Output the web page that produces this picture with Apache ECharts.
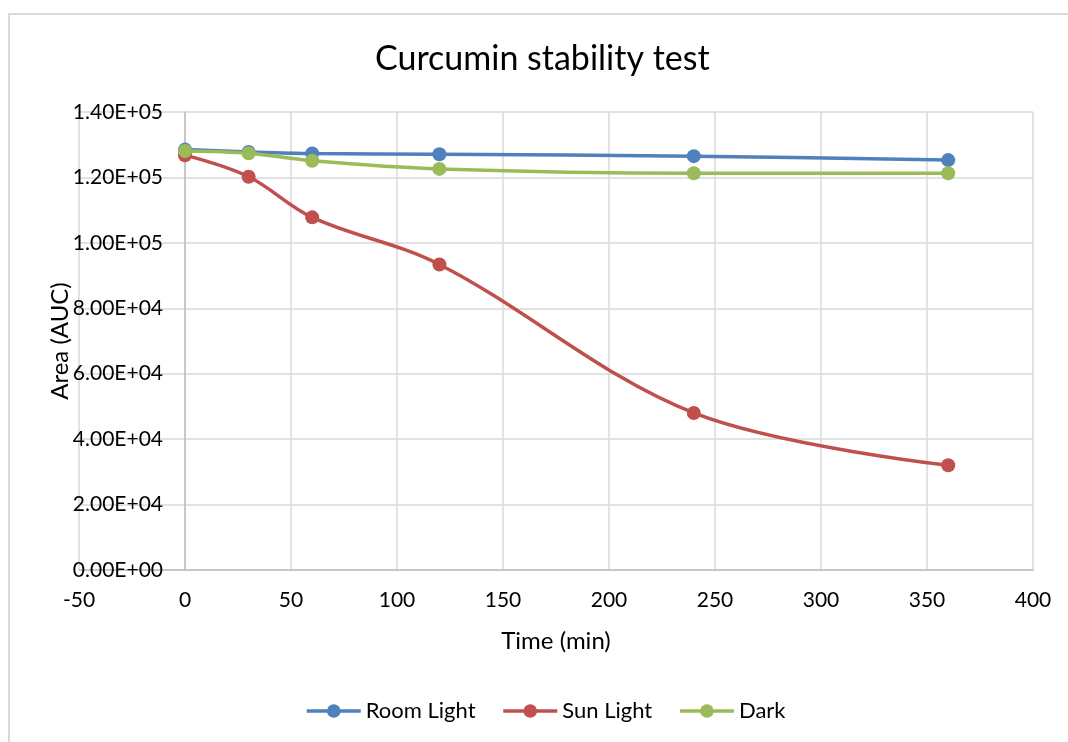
<!DOCTYPE html>
<html>
<head>
<meta charset="utf-8">
<title>Curcumin stability test</title>
<script src="https://cdn.jsdelivr.net/npm/echarts@6/dist/echarts.min.js"></script>
<style>
  html, body { margin: 0; padding: 0; background: #fff; }
  #frame { position: absolute; left: 8px; top: 13px; width: 1080px; height: 760px;
           border: 2px solid #d9d9d9; box-sizing: border-box; }
  #chart { position: absolute; left: 0; top: 0; width: 1068px; height: 742px; }
</style>
</head>
<body>
<div id="frame"></div>
<div id="chart"></div>
<script>
// Sampling times (min)
const times = [0, 30, 60, 120, 240, 360];
// Peak area (AUC) per storage condition
const roomLight = [128500, 127800, 127300, 127100, 126500, 125300];
const sunLight  = [126800, 120200, 107800, 93400, 48000, 32000];
const dark      = [128100, 127400, 125100, 122600, 121300, 121300];

const seriesNames = ['Room Light', 'Sun Light', 'Dark'];
const seriesColors = ['#4f81bd', '#c0504d', '#9bbb59'];
const seriesValues = [roomLight, sunLight, dark];

const FONT = 'Lato';

// Plot box (px) and x range; the value axis is drawn where time = 0
const GRID = { left: 79, right: 35, top: 112, bottom: 172 };
const X_MIN = -50, X_MAX = 400;
const plotWidth = 1068 - GRID.left - GRID.right;
const zeroOffset = (0 - X_MIN) / (X_MAX - X_MIN) * plotWidth;

function sci(v) {
  const [m, e] = v.toExponential(2).split('e');
  const sign = e[0] === '-' ? '-' : '+';
  const exp = e.replace(/^[+-]/, '').padStart(2, '0');
  return m + 'E' + sign + exp;
}

const chart = echarts.init(document.getElementById('chart'), null, { renderer: 'canvas' });

chart.setOption({
  backgroundColor: 'transparent',
  animation: false,
  title: {
    text: 'Curcumin stability test',
    left: 370,
    top: 37,
    textStyle: { fontFamily: FONT, fontSize: 34, fontWeight: 'normal', color: '#000' }
  },
  legend: {
    bottom: 15,
    left: 300,
    itemWidth: 54,
    itemHeight: 17,
    itemGap: 26,
    lineStyle: { width: 3.5 },
    textStyle: { fontFamily: FONT, fontSize: 22, color: '#000' },
    data: seriesNames
  },
  grid: Object.assign({ containLabel: false, outerBoundsMode: 'none' }, GRID),
  xAxis: {
    type: 'value',
    min: X_MIN, max: X_MAX, interval: 50,
    name: 'Time (min)',
    nameLocation: 'middle',
    nameGap: 59,
    nameMoveOverlap: false,
    nameTextStyle: { fontFamily: FONT, fontSize: 24, color: '#000' },
    axisLine: { show: true, onZero: true, lineStyle: { color: '#bfbfbf', width: 1.5 } },
    axisTick: { show: false },
    axisLabel: { fontFamily: FONT, fontSize: 21, color: '#000', margin: 20 },
    splitLine: { show: true, lineStyle: { color: '#d9d9d9', width: 1.5 } }
  },
  yAxis: {
    type: 'value',
    min: 0, max: 140000, interval: 20000,
    offset: -zeroOffset,
    name: 'Area (AUC)',
    nameLocation: 'middle',
    nameGap: 113,
    nameRotate: 90,
    nameMoveOverlap: false,
    nameTextStyle: { fontFamily: FONT, fontSize: 24, color: '#000' },
    axisLine: { show: true, onZero: false, lineStyle: { color: '#bfbfbf', width: 1.5 } },
    axisTick: { show: false },
    axisLabel: { fontFamily: FONT, fontSize: 21, color: '#000', margin: 22, formatter: sci },
    splitLine: { show: true, lineStyle: { color: '#d9d9d9', width: 1.5 } }
  },
  series: seriesNames.map((name, i) => ({
    name,
    type: 'line',
    smooth: 0.35,
    symbol: 'circle',
    symbolSize: 14,
    color: seriesColors[i],
    lineStyle: { width: 3.5, color: seriesColors[i] },
    itemStyle: { color: seriesColors[i] },
    data: times.map((t, k) => [t, seriesValues[i][k]]),
    z: 2 + i
  }))
});
</script>
</body>
</html>
